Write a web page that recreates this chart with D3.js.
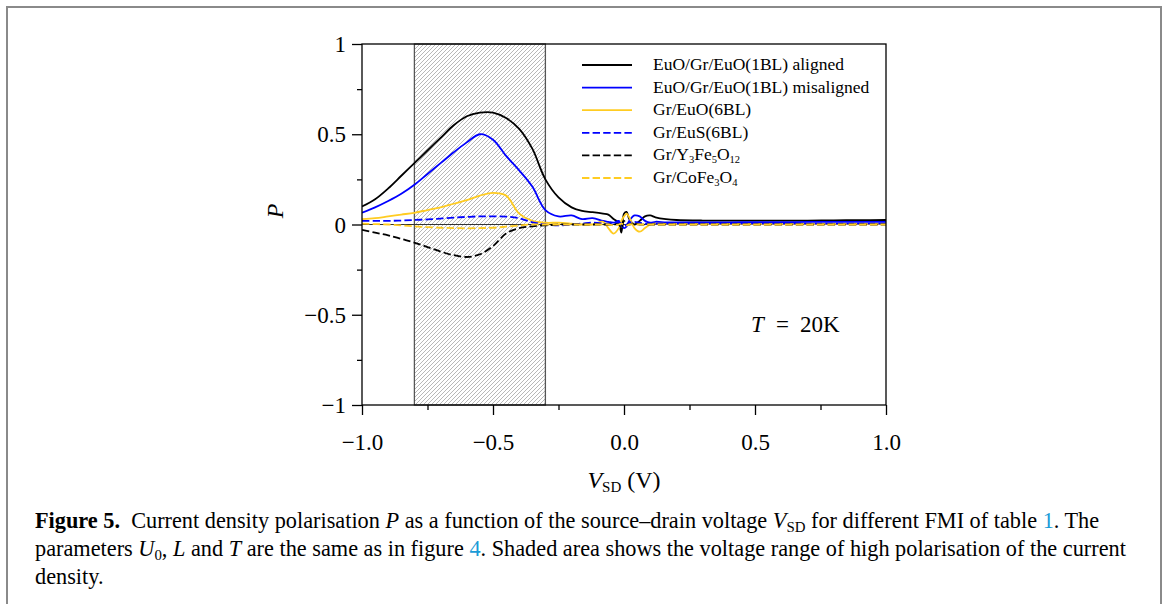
<!DOCTYPE html>
<html>
<head>
<meta charset="utf-8">
<style>
  body { margin: 0; background: #fff; }
  svg { display: block; }
  text { font-family: "Liberation Serif", "DejaVu Serif", serif; fill: #000; }
</style>
</head>
<body>
<svg></svg>
<script src="https://cdnjs.cloudflare.com/ajax/libs/d3/7.8.5/d3.min.js"></script>
<script>
let width = 1165,
    height = 604;

// source-drain voltage grid (V)
const vsd = [-1.0, -0.95, -0.9, -0.85, -0.8, -0.75, -0.7, -0.65, -0.6, -0.55, -0.5, -0.45, -0.4, -0.35, -0.3, -0.25,
  -0.2, -0.16, -0.12, -0.08, -0.06, -0.04, -0.02, -0.01, 0.0, 0.01, 0.02, 0.04, 0.06, 0.08, 0.1, 0.12, 0.16,
  0.2, 0.3, 0.4, 0.5, 0.6, 0.7, 0.8, 0.9, 1.0];

// polarisation P for each FMI
const pAligned = [0.10, 0.14, 0.20, 0.27, 0.34, 0.41, 0.48, 0.55, 0.60, 0.62, 0.62, 0.59, 0.53, 0.42, 0.25, 0.15,
  0.095, 0.075, 0.068, 0.06, 0.055, 0.03, 0.01, -0.045, 0.06, 0.07, 0.03, 0.0, 0.02, 0.045, 0.05, 0.04, 0.03,
  0.025, 0.022, 0.022, 0.022, 0.022, 0.022, 0.023, 0.024, 0.025];
const pMisaligned = [0.065, 0.095, 0.13, 0.17, 0.22, 0.28, 0.34, 0.40, 0.455, 0.50, 0.47, 0.38, 0.30, 0.21, 0.08, 0.045,
  0.05, 0.03, 0.035, 0.02, 0.015, 0.01, 0.02, 0.0, -0.02, -0.01, 0.02, 0.05, 0.045, 0.02, 0.01, 0.015, 0.012,
  0.012, 0.012, 0.012, 0.013, 0.013, 0.014, 0.014, 0.015, 0.015];
const pEuO6 = [0.03, 0.035, 0.045, 0.055, 0.065, 0.08, 0.095, 0.115, 0.135, 0.16, 0.175, 0.16, 0.06, 0.02, 0.01, 0.01,
  0.005, 0.0, 0.0, 0.015, -0.02, -0.05, -0.02, 0.02, 0.045, 0.06, 0.04, -0.02, -0.04, -0.02, 0.0, 0.005, 0.003,
  0.002, 0.002, 0.002, 0.002, 0.002, 0.002, 0.002, 0.002, 0.002];
const pEuS6 = [0.02, 0.02, 0.02, 0.022, 0.025, 0.028, 0.033, 0.038, 0.042, 0.045, 0.045, 0.044, 0.035, 0.012, 0.0, -0.005,
  0.0, 0.005, 0.01, 0.005, 0.0, 0.005, 0.01, 0.005, -0.005, 0.0, 0.01, 0.015, 0.01, 0.005, 0.005, 0.005, 0.005,
  0.005, 0.005, 0.005, 0.005, 0.005, 0.005, 0.005, 0.005, 0.005];
const pYIG = [-0.03, -0.045, -0.06, -0.08, -0.10, -0.125, -0.15, -0.17, -0.18, -0.165, -0.12, -0.05, -0.02, -0.01, -0.005, 0.0,
  0.0, 0.0, 0.0, 0.0, 0.0, 0.0, 0.0, -0.02, 0.02, 0.0, 0.0, 0.005, 0.0, 0.0, 0.0, 0.0, 0.0,
  0.0, 0.0, 0.0, 0.0, 0.0, 0.0, 0.0, 0.0, 0.0];
const pCoFe = [0.005, 0.002, 0.0, -0.005, -0.01, -0.015, -0.018, -0.02, -0.021, -0.02, -0.018, -0.012, -0.005, 0.0, 0.0, 0.0,
  0.0, 0.0, 0.0, 0.0, 0.0, -0.005, 0.0, 0.005, 0.0, -0.005, 0.0, 0.0, 0.0, 0.0, 0.0, 0.0, 0.0,
  0.0, 0.0, 0.0, 0.0, 0.0, 0.0, 0.0, 0.0, 0.0];

const seriesNames = ["aligned", "misaligned", "EuO6", "EuS6", "YIG", "CoFe"];
const seriesValues = [pAligned, pMisaligned, pEuO6, pEuS6, pYIG, pCoFe];
const seriesColors = ["#000000", "#0000ff", "#ffcc22", "#0000ff", "#000000", "#ffcc22"];
const seriesDashed = [false, false, false, true, true, true];

const xTicks = [-1.0, -0.5, 0.0, 0.5, 1.0];
const yTicks = [-1, -0.5, 0, 0.5, 1];
const minorTicks = [-0.75, -0.25, 0.25, 0.75];
const shadeRange = [-0.8, -0.3];

let svg = d3.select("svg").attr("width", width).attr("height", height)
    .attr("viewBox", "0 0 " + width + " " + height);

// outer figure border
svg.append("rect")
    .attr("x", 7).attr("y", 7).attr("width", 1154).attr("height", 640)
    .attr("fill", "none").attr("stroke", "#8a8a8a").attr("stroke-width", 2);

let x = d3.scaleLinear().domain([-1, 1]).range([362, 886]);
let y = d3.scaleLinear().domain([-1, 1]).range([405, 44]);

// hatch pattern
let defs = svg.append("defs");
let pat = defs.append("pattern")
    .attr("id", "hatch").attr("patternUnits", "userSpaceOnUse")
    .attr("width", 4).attr("height", 4);
pat.append("path")
    .attr("d", "M-1,1 l2,-2 M0,4 l4,-4 M3,5 l2,-2")
    .attr("stroke", "#a0a0a0").attr("stroke-width", 0.75);
defs.append("clipPath").attr("id", "plotclip")
    .append("rect").attr("x", 362).attr("y", 44).attr("width", 524).attr("height", 361);

svg.append("rect")
    .attr("x", x(shadeRange[0])).attr("y", y(1))
    .attr("width", x(shadeRange[1]) - x(shadeRange[0]))
    .attr("height", y(-1) - y(1))
    .attr("fill", "url(#hatch)").attr("stroke", "#555").attr("stroke-width", 1.3);

// zero line
svg.append("line")
    .attr("x1", x(-1)).attr("x2", x(1)).attr("y1", y(0)).attr("y2", y(0))
    .attr("stroke", "#333").attr("stroke-width", 1);

let line = d3.line()
    .x((d, i) => x(vsd[i]))
    .y(d => y(d))
    .curve(d3.curveCatmullRom.alpha(0.5));

svg.append("g").attr("clip-path", "url(#plotclip)")
    .selectAll("path")
    .data(seriesValues)
    .enter()
    .append("path")
    .attr("d", d => line(d))
    .attr("fill", "none")
    .attr("stroke", (d, i) => seriesColors[i])
    .attr("stroke-width", 1.8)
    .attr("stroke-dasharray", (d, i) => seriesDashed[i] ? "7.4,3.2" : null);

// frame
svg.append("rect")
    .attr("x", 362).attr("y", 44).attr("width", 524).attr("height", 361)
    .attr("fill", "none").attr("stroke", "#000").attr("stroke-width", 1.3);

// axes
let xAxis = svg.append("g").attr("transform", "translate(0,405)")
    .call(d3.axisBottom(x).tickValues(xTicks).tickSize(10).tickFormat(d3.format(".1f")));
let xMinor = svg.append("g").attr("transform", "translate(0,405)")
    .call(d3.axisBottom(x).tickValues(minorTicks).tickSize(5).tickFormat(""));
let yAxis = svg.append("g").attr("transform", "translate(362,0)")
    .call(d3.axisLeft(y).tickValues(yTicks).tickSize(10).tickFormat(d => d === 0 ? "0" : d3.format("")(d)));
let yMinor = svg.append("g").attr("transform", "translate(362,0)")
    .call(d3.axisLeft(y).tickValues(minorTicks).tickSize(5).tickFormat(""));

[xAxis, xMinor, yAxis, yMinor].forEach(g => {
    g.select(".domain").remove();
    g.selectAll("line").attr("stroke", "#000").attr("stroke-width", 1.3);
});
xAxis.selectAll("text")
    .attr("y", 45).attr("dy", null)
    .style("font-family", "Liberation Serif").style("font-size", "23px");
yAxis.selectAll("text")
    .attr("x", -16).attr("dy", "0.33em")
    .style("font-family", "Liberation Serif").style("font-size", "23px");

// axis labels
svg.append("text")
    .attr("transform", "translate(283,211) rotate(-90)")
    .attr("text-anchor", "middle")
    .style("font-size", "24px").style("font-style", "italic")
    .text("P");

let xl = svg.append("text")
    .attr("x", 624).attr("y", 488).attr("text-anchor", "middle")
    .style("font-size", "24px");
xl.append("tspan").style("font-style", "italic").text("V");
xl.append("tspan").attr("dy", 4).style("font-size", "15px").text("SD");
xl.append("tspan").attr("dy", -4).text(" (V)");

// temperature annotation
let tl = svg.append("text").attr("y", 332).style("font-size", "23px");
tl.append("tspan").attr("x", 751).style("font-style", "italic").text("T");
tl.append("tspan").attr("x", 776).text("=");
tl.append("tspan").attr("x", 800).text("20K");

// legend
const legendLabels = [
    [["EuO/Gr/EuO(1BL) aligned", 0]],
    [["EuO/Gr/EuO(1BL) misaligned", 0]],
    [["Gr/EuO(6BL)", 0]],
    [["Gr/EuS(6BL)", 0]],
    [["Gr/Y", 0], ["3", 1], ["Fe", 0], ["5", 1], ["O", 0], ["12", 1]],
    [["Gr/CoFe", 0], ["3", 1], ["O", 0], ["4", 1]]
];
let legend = svg.append("g");
legendLabels.forEach((parts, i) => {
    let ly = 65 + i * 22.6;
    legend.append("line")
        .attr("x1", 582).attr("x2", 632).attr("y1", ly).attr("y2", ly)
        .attr("stroke", seriesColors[i]).attr("stroke-width", 1.8)
        .attr("stroke-dasharray", seriesDashed[i] ? "7.4,3.2" : null);
    let t = legend.append("text").attr("x", 653).attr("y", ly + 5).style("font-size", "17.5px");
    let sub = false;
    parts.forEach(p => {
        let ts = t.append("tspan").text(p[0]);
        if (p[1] && !sub) { ts.attr("dy", 3).style("font-size", "10.5px"); sub = true; }
        else if (!p[1] && sub) { ts.attr("dy", -3); sub = false; }
        else if (p[1]) { ts.style("font-size", "10.5px"); }
    });
});

// caption
const captionLines = [
    [["Figure 5.", "b"], ["  Current density polarisation ", ""], ["P", "i"], [" as a function of the source\u2013drain voltage ", ""],
     ["V", "i"], ["SD", "s"], [" for different FMI of table ", ""], ["1", "l"], [". The", ""]],
    [["parameters ", ""], ["U", "i"], ["0", "s"], [", ", ""], ["L", "i"], [" and ", ""], ["T", "i"],
     [" are the same as in figure ", ""], ["4", "l"], [". Shaded area shows the voltage range of high polarisation of the current", ""]],
    [["density.", ""]]
];
const captionY = [528, 556, 584];
let capFont = 18;
captionLines.forEach((parts, i) => {
    let t = svg.append("text").attr("class", "cap").attr("x", 35).attr("y", captionY[i])
        .style("font-size", capFont + "px");
    let inSub = false;
    parts.forEach(p => {
        let ts = t.append("tspan").text(p[0]).attr("xml:space", "preserve");
        if (p[1] === "b") ts.style("font-weight", "bold");
        if (p[1] === "i") ts.style("font-style", "italic");
        if (p[1] === "l") ts.style("fill", "#1a9bd7");
        if (p[1] === "s") { ts.attr("dy", 4).style("font-size", "12px"); inSub = true; }
        else if (inSub) { ts.attr("dy", -4); inSub = false; }
    });
});
// fit first caption line to its width in the figure
let capNodes = svg.selectAll("text.cap").nodes();
let w0 = capNodes[0].getComputedTextLength();
let scale = 1065 / w0;
svg.selectAll("text.cap").style("font-size", (capFont * scale) + "px")
    .selectAll("tspan").filter(function () { return this.style.fontSize === "12px"; })
    .style("font-size", (12 * scale) + "px");
</script>
</body>
</html>
